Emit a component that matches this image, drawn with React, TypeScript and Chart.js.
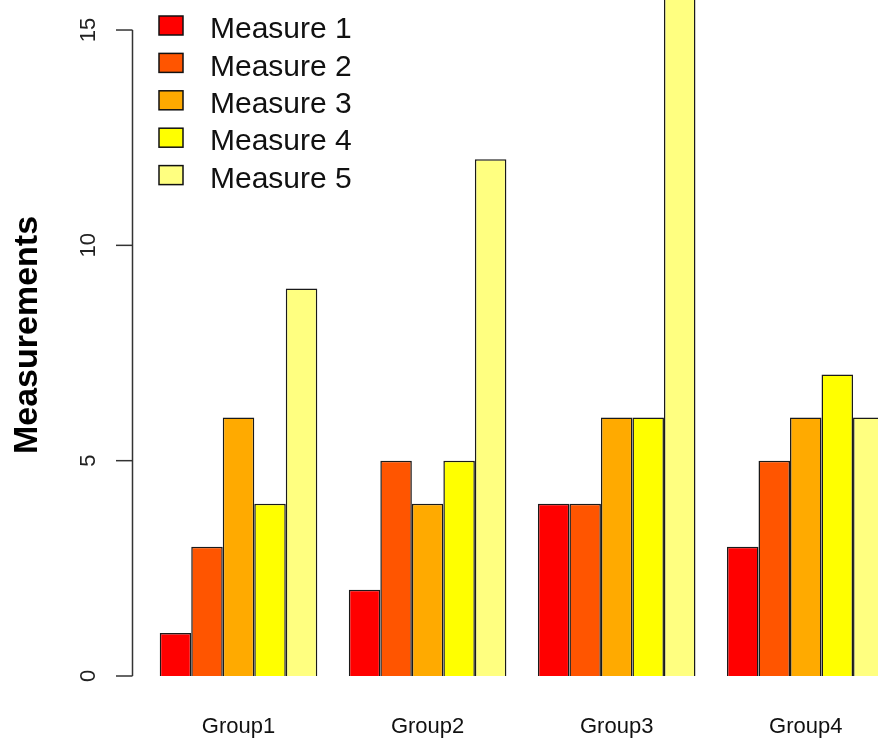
import React, { useEffect, useRef } from "react";
import { Chart, registerables } from "chart.js";

Chart.register(...registerables);

const groups = ["Group1", "Group2", "Group3", "Group4"];
const seriesNames = ["Measure 1", "Measure 2", "Measure 3", "Measure 4", "Measure 5"];
const measure1 = [1, 2, 4, 3];
const measure2 = [3, 5, 4, 5];
const measure3 = [6, 4, 6, 6];
const measure4 = [4, 5, 6, 7];
const measure5 = [9, 12, 17, 6];
const seriesColors = ["#FF0000", "#FF5500", "#FFAA00", "#FFFF00", "#FFFF80"];
const yTicks = [0, 5, 10, 15];
const yTitle = "Measurements";

const FONT = "'Liberation Sans', Arial, Helvetica, sans-serif";

const overlayPlugin = {
  id: "rOverlay",
  afterDraw(chart: any) {
    const ctx = chart.ctx as CanvasRenderingContext2D;
    const xs = chart.scales.x;
    const ys = chart.scales.y;
    ctx.save();

    // Y axis line and ticks
    const axisX = 132.5;
    const yTop = ys.getPixelForValue(yTicks[yTicks.length - 1]);
    const yBot = ys.getPixelForValue(yTicks[0]);
    ctx.strokeStyle = "#333333";
    ctx.lineWidth = 1.5;
    ctx.beginPath();
    ctx.moveTo(axisX, yTop);
    ctx.lineTo(axisX, yBot);
    ctx.stroke();
    ctx.fillStyle = "#222222";
    ctx.font = `22px ${FONT}`;
    ctx.textAlign = "center";
    ctx.textBaseline = "middle";
    yTicks.forEach((t) => {
      const py = ys.getPixelForValue(t);
      ctx.beginPath();
      ctx.moveTo(116, py);
      ctx.lineTo(axisX, py);
      ctx.stroke();
      ctx.save();
      ctx.translate(89, py);
      ctx.rotate(-Math.PI / 2);
      ctx.fillText(String(t), 0, 0);
      ctx.restore();
    });

    // Y title
    ctx.save();
    ctx.fillStyle = "#000000";
    ctx.font = `bold 34px ${FONT}`;
    ctx.translate(28, 335);
    ctx.rotate(-Math.PI / 2);
    ctx.fillText(yTitle, 0, 0);
    ctx.restore();

    // Group labels
    ctx.fillStyle = "#111111";
    ctx.font = `22px ${FONT}`;
    groups.forEach((g, i) => {
      const px = xs.getPixelForValue(i + 1);
      ctx.fillText(g, px, 727);
    });

    // Legend
    ctx.font = `30px ${FONT}`;
    ctx.textAlign = "left";
    chart.data.datasets.forEach((ds: any, i: number) => {
      const cy = 25.5 + i * 37.4;
      ctx.fillStyle = ds.backgroundColor;
      ctx.fillRect(159, cy - 9.5, 24, 19);
      ctx.strokeStyle = "#111111";
      ctx.lineWidth = 1.5;
      ctx.strokeRect(159, cy - 9.5, 24, 19);
      ctx.fillStyle = "#111111";
      ctx.fillText(ds.label, 210, cy + 4.5);
    });

    ctx.restore();
  },
};

export default function App() {
  const canvasRef = useRef<HTMLCanvasElement | null>(null);

  useEffect(() => {
    const canvas = canvasRef.current;
    if (!canvas) return;
    const allSeries = [measure1, measure2, measure3, measure4, measure5];
    const datasets = allSeries.map((vals, si) => ({
      label: seriesNames[si],
      data: vals.map((v, gi) => ({ x: gi + 1, y: v })),
      backgroundColor: seriesColors[si],
      borderColor: "#1a1a1a",
      borderWidth: 1.5,
      categoryPercentage: 5 / 6,
      barPercentage: 1,
    }));
    const chart = new Chart(canvas, {
      type: "bar",
      data: { datasets },
      options: {
        animation: false,
        responsive: false,
        devicePixelRatio: 1,
        layout: { padding: { left: 132, right: 0, top: 0, bottom: 67 } },
        plugins: {
          legend: { display: false },
          tooltip: { enabled: false },
        },
        scales: {
          x: {
            type: "linear",
            display: false,
            min: 0.4367,
            max: 4.382,
            offset: false,
            afterBuildTicks: (scale: any) => {
              scale.ticks = groups.map((_, i) => ({ value: i + 1 }));
            },
          },
          y: {
            type: "linear",
            display: false,
            min: 0,
            max: 15.697,
          },
        },
      },
      plugins: [overlayPlugin],
    } as any);
    return () => chart.destroy();
  }, []);

  return (
    <div style={{ position: "absolute", left: 0, top: 0, width: 878, height: 743, background: "#ffffff" }}>
      <canvas ref={canvasRef} width={878} height={743} style={{ display: "block" }} />
    </div>
  );
}
